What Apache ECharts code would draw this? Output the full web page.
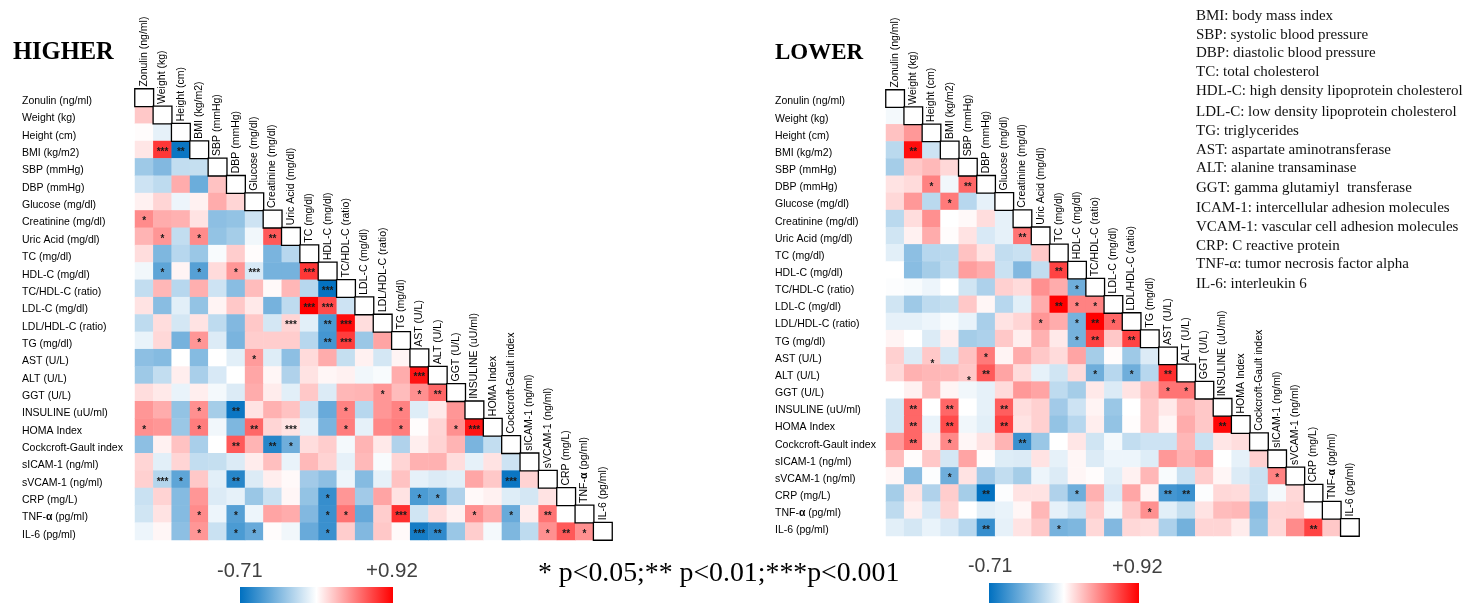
<!DOCTYPE html>
<html><head><meta charset="utf-8">
<style>html,body{margin:0;padding:0;background:#fff;overflow:hidden}#c{width:1470px;height:603px}</style>
<script src="https://cdn.jsdelivr.net/npm/echarts@6/dist/echarts.min.js"></script>
</head><body><div id="c"></div>
<script>
const variables = ["Zonulin (ng/ml)","Weight (kg)","Height (cm)","BMI (kg/m2)","SBP (mmHg)","DBP (mmHg)","Glucose (mg/dl)","Creatinine (mg/dl)","Uric Acid (mg/dl)","TC (mg/dl)","HDL-C (mg/dl)","TC/HDL-C (ratio)","LDL-C (mg/dl)","LDL/HDL-C (ratio)","TG (mg/dl)","AST (U/L)","ALT (U/L)","GGT (U/L)","INSULINE (uU/ml)","HOMA Index","Cockcroft-Gault index","sICAM-1 (ng/ml)","sVCAM-1 (ng/ml)","CRP (mg/L)","TNF-α (pg/ml)","IL-6 (pg/ml)"];

const higherValues = [
[],
[.2],
[.01,-.07],
[.09,.72,-.68],
[-.27,-.35,-.17,-.16],
[-.14,-.18,.3,-.41,.22],
[.05,.15,-.05,.05,.3,.15],
[.42,.3,.28,.1,-.32,-.3,-.14],
[.27,.38,-.17,.42,-.3,-.25,-.04,.6],
[.12,-.36,-.2,-.28,-.02,.18,.01,-.37,-.2],
[-.04,-.45,.04,-.47,.13,.38,-.11,-.38,-.38,.72],
[-.17,.26,-.2,.29,-.14,-.33,.24,.02,.26,-.2,-.7],
[.1,-.33,-.08,-.3,.04,.2,.08,-.38,-.18,.92,.65,-.14],
[-.18,.12,-.12,.1,-.18,-.35,.2,-.12,.15,-.08,-.5,.88,.12],
[-.06,.14,-.38,.38,-.1,-.37,.18,.18,.18,-.2,-.52,.7,-.28,.33],
[-.32,-.34,0,-.34,0,-.08,.36,-.09,-.32,.13,.3,-.16,.05,-.12,.04],
[-.27,-.17,.06,-.24,-.11,0,.32,.03,-.22,.1,.03,.05,-.04,-.02,.3,.85],
[.12,.08,-.06,.06,-.03,-.1,.3,.07,-.08,.2,-.1,.26,.27,.38,.24,.4,.55],
[.38,.3,-.3,.4,-.25,-.68,.1,.28,.22,-.14,-.42,.45,-.2,.38,.45,-.09,.08,.38],
[.4,.38,-.28,.47,-.04,-.36,.55,.15,.1,-.07,-.37,.47,-.07,.43,.47,.01,.15,.4,.85],
[-.32,.05,.22,-.24,0,.6,.27,-.6,-.4,.12,.18,-.03,.27,.08,-.22,.06,.16,.27,-.37,-.17],
[.15,-.08,.15,-.17,-.16,-.1,.07,.23,-.06,.25,.16,-.07,.25,-.02,.15,.28,.28,.12,-.07,.1,-.14],
[.17,-.21,-.45,.2,-.08,-.6,-.1,.06,.02,-.26,-.32,-.05,-.34,-.07,.22,-.07,-.1,-.08,.32,.2,-.68,.16],
[-.15,.16,-.34,.38,-.1,-.07,-.28,-.15,.03,-.3,-.56,.38,-.26,.33,.1,-.5,-.45,-.22,.02,.05,-.09,-.12,.1],
[-.13,.1,-.34,.42,-.05,-.47,-.05,.33,.3,-.35,-.55,.5,-.43,.18,.75,-.13,.12,.05,.4,.3,-.42,.07,.5,0],
[-.05,.03,-.32,.38,-.15,-.5,-.42,.01,-.04,-.42,-.55,.18,-.35,.2,.02,-.65,-.58,-.28,.18,-.03,-.36,-.18,.4,.6,.4]
];

const lowerValues = [
[],
[-.03],
[.22,.37],
[-.19,.87,-.14],
[-.25,.2,.25,.14],
[.1,.13,.45,-.04,.55],
[.14,.37,-.19,.48,-.2,-.07],
[-.19,.12,.4,0,.02,.12,-.07],
[-.13,.05,.3,.01,.1,-.11,-.07,.5],
[-.08,-.32,-.2,-.19,.22,.1,-.17,-.15,.2],
[0,-.33,-.25,-.18,.35,.3,-.15,-.35,-.17,.68],
[-.01,-.02,-.05,0,-.13,-.23,.17,.13,.4,.3,-.4],
[-.13,-.27,-.18,-.16,.2,.03,-.2,-.08,.3,.92,.45,.45],
[-.07,-.07,-.05,-.02,-.06,-.24,.1,.15,.38,.3,-.38,.92,.55],
[.04,0,-.1,.06,-.25,-.23,.2,.06,.28,.08,-.38,.68,.2,.68],
[.17,-.1,.2,-.12,.22,.48,.04,.3,.2,.13,.33,-.25,.01,-.27,-.1],
[.14,.28,.26,.25,.2,.6,.33,.13,-.07,-.13,.13,-.4,-.2,-.4,-.2,.75],
[0,.05,.24,.04,-.04,-.07,.13,.37,.33,-.18,-.25,.08,-.1,.1,.23,.5,.5],
[-.12,.55,0,.55,0,-.07,.58,.12,.17,-.26,-.14,.04,-.28,0,.2,.08,.26,.2],
[-.12,.55,-.06,.65,-.04,-.08,.68,.1,.17,-.3,-.2,.06,-.3,.01,.2,.03,.3,.2,.9],
[.37,.55,.06,.43,.03,.1,.27,-.55,-.28,0,.09,-.13,-.03,-.17,-.14,-.14,.26,-.15,.09,.12],
[.24,.01,.2,-.12,.33,.01,-.09,-.1,.1,-.07,.03,-.1,-.05,-.05,-.09,.37,.28,.35,0,-.07,.17],
[.03,-.33,-.01,-.4,.1,-.26,-.17,-.25,-.05,-.1,.03,.01,-.08,.05,.26,-.02,-.15,.18,.03,-.1,-.15,.45],
[-.25,.1,-.22,.18,-.25,-.7,-.01,.1,.1,-.22,-.4,.28,-.11,.32,.04,-.52,-.55,-.01,.14,.13,-.15,-.03,.14],
[-.18,.06,-.11,.16,0,-.08,-.06,.03,.26,-.07,-.14,.18,-.04,.2,.4,-.08,-.16,.1,.24,.26,-.33,.15,.16,-.01],
[-.08,-.12,-.06,-.11,-.2,-.56,-.07,.1,.2,-.38,-.36,.14,-.35,.14,.12,-.23,-.39,.15,.15,.07,-.3,.14,.42,.68,.2]
];

// significance: row -> { column: number of asterisks }
const higherStars = {3:{1:3,2:2},7:{0:1},8:{1:1,3:1,7:2},10:{1:1,3:1,5:1,6:3,9:3},11:{10:3},12:{9:3,10:3},13:{8:3,10:2,11:3},14:{3:1,10:2,11:3},15:{6:1},16:{15:3},17:{13:1,15:1,16:2},18:{3:1,5:2,11:1,14:1},19:{0:1,3:1,6:2,8:3,11:1,14:1,17:1,18:3},20:{5:2,7:2,8:1},22:{1:3,2:1,5:2,20:3},23:{10:1,15:1,16:1},24:{3:1,5:1,10:1,11:1,14:3,18:1,20:1,22:2},25:{3:1,5:1,6:1,10:1,15:3,16:2,22:1,23:2,24:1}};
const lowerStars = {3:{1:2},5:{2:1,4:2},6:{3:1},8:{7:2},10:{9:2},11:{10:1},12:{9:2,10:1,11:1},13:{8:1,10:1,11:2,12:1},14:{10:1,11:2,13:2},15:{2:1,5:1},16:{4:1,5:2,11:1,13:1,15:2},17:{15:1,16:1},18:{1:2,3:2,6:2},19:{1:2,3:2,6:2,18:2},20:{1:2,3:1,7:2},22:{3:1,21:1},23:{5:2,10:1,15:2,16:2},24:{14:1},25:{5:2,9:1,23:2}};

const glossary = ["BMI: body mass index","SBP: systolic blood pressure","DBP: diastolic blood pressure","TC: total cholesterol","HDL-C: high density lipoprotein cholesterol","LDL-C: low density lipoprotein cholesterol","TG: triglycerides","AST: aspartate aminotransferase","ALT: alanine transaminase","GGT: gamma glutamiyl  transferase","ICAM-1: intercellular adhesion molecules","VCAM-1: vascular cell adhesion molecules","CRP: C reactive protein","TNF-α: tumor necrosis factor alpha","IL-6: interleukin 6"];
const glossaryY = [16,35,53,72,91,112,131,150,168,188,208,227,246,264,284];
const scaleMin = -0.71, scaleMax = 0.92;

const SANS = '"Liberation Sans", Arial, sans-serif', SERIF = '"Liberation Serif", serif';
function mix(a,b,t){return a.map((v,i)=>Math.round(v+(b[i]-v)*t));}
function shade(v){
  const white=[255,255,255];
  const c = v<0 ? mix(white,[0,112,192],Math.min(1,v/scaleMin)) : mix(white,[255,0,0],Math.min(1,v/scaleMax));
  return `rgb(${c.join(',')})`;
}
const stops=[];for(let i=0;i<=200;i++)stops.push(shade(scaleMin+(scaleMax-scaleMin)*i/200));

// two asterisks in the LOWER panel sit near the bottom of their cells
const lowStarCells = {'15-2':1,'16-4':1};
function cells(values,stars,lowCells){
  const out=[];
  values.forEach((row,r)=>row.forEach((v,c)=>{
    const n=(stars[r]&&stars[r][c])||0;
    const item={value:[c,r,v],stars:'*'.repeat(n)};
    if(lowCells[r+'-'+c]) item.label={offset:[1,8.5]};
    out.push(item);
  }));
  return out;
}
const diag=variables.map((_,i)=>[i,i,0]);
const boldAlpha=s=>s.replace('α','{a|α}');
const LABEL_SIZE=10.5;
const richAlpha={a:{fontFamily:SANS,fontSize:LABEL_SIZE,fontWeight:'bold',color:'#000'}};

const panels=[
 {g:{left:135,top:89,width:477,height:451},vals:higherValues,st:higherStars,low:{},labelLeft:22,pad:7},
 {g:{left:886,top:90,width:473,height:446},vals:lowerValues,st:lowerStars,low:lowStarCells,labelLeft:775,pad:6}
];
const grid=[],xAxis=[],yAxis=[],series=[];
panels.forEach((p,i)=>{
  grid.push(Object.assign({containLabel:false},p.g));
  xAxis.push({type:'category',gridIndex:i,data:variables,show:false,splitArea:{show:false}});
  yAxis.push({type:'category',gridIndex:i,data:variables,inverse:true,axisLine:{show:false},axisTick:{show:false},splitLine:{show:false},
    axisLabel:{interval:0,align:'left',margin:p.g.left-p.labelLeft,fontFamily:SANS,fontSize:LABEL_SIZE,color:'#000',padding:[p.pad,0,0,0],hideOverlap:false,formatter:boldAlpha,rich:richAlpha}});
  series.push({type:'heatmap',name:'r'+i,xAxisIndex:i,yAxisIndex:i,data:cells(p.vals,p.st,p.low),progressive:0,animation:false,
    label:{show:true,formatter:o=>o.data.stars,fontFamily:SANS,fontSize:10,fontWeight:'bold',color:'#1a1a1a',offset:[0,2.5]},
    itemStyle:{borderWidth:0},emphasis:{disabled:true}});
  series.push({type:'heatmap',name:'d'+i,xAxisIndex:i,yAxisIndex:i,data:diag,animation:false,z:5,
    itemStyle:{color:'#fff',borderColor:'#000',borderWidth:1.3},
    label:{show:true,position:'top',distance:1.5,rotate:90,align:'left',verticalAlign:'middle',fontFamily:SANS,fontSize:LABEL_SIZE,color:'#000',rich:richAlpha,
      formatter:o=>boldAlpha(variables[o.data[0]])},emphasis:{disabled:true}});
});

function txt(x,y,s,font,fill){return {type:'text',x,y,style:{text:s,font,fill,textVerticalAlign:'middle'},silent:true};}
function bar(x,y,w,h){return {type:'rect',shape:{x,y,width:w,height:h},silent:true,style:{fill:new echarts.graphic.LinearGradient(0,0,1,0,[{offset:0,color:'#0070c0'},{offset:.5,color:'#ffffff'},{offset:1,color:'#ff0000'}])}};}
const graphic=[
  txt(13,53,'HIGHER','bold 24.5px '+SERIF,'#000'),
  txt(775,53,'LOWER','bold 23px '+SERIF,'#000'),
  txt(538,574,'* p<0.05;** p<0.01;***p<0.001','27.8px '+SERIF,'#000'),
  txt(217,571,'-0.71','20px '+SANS,'#404040'),
  txt(366,571,'+0.92','20.5px '+SANS,'#404040'),
  txt(968,567,'-0.71','19.5px '+SANS,'#404040'),
  txt(1112,567,'+0.92','20px '+SANS,'#404040'),
  bar(240,587,153,16),
  bar(989,583,150,20)
].concat(glossary.map((s,i)=>txt(1196,glossaryY[i],s,'15px '+SERIF,'#111')));

const chart=echarts.init(document.getElementById('c'),null,{renderer:'canvas'});
chart.setOption({animation:false,backgroundColor:'#fff',grid,xAxis,yAxis,series,graphic,
  visualMap:{show:false,type:'continuous',min:scaleMin,max:scaleMax,dimension:2,seriesIndex:[0,2],inRange:{color:stops}}
});
</script></body></html>
